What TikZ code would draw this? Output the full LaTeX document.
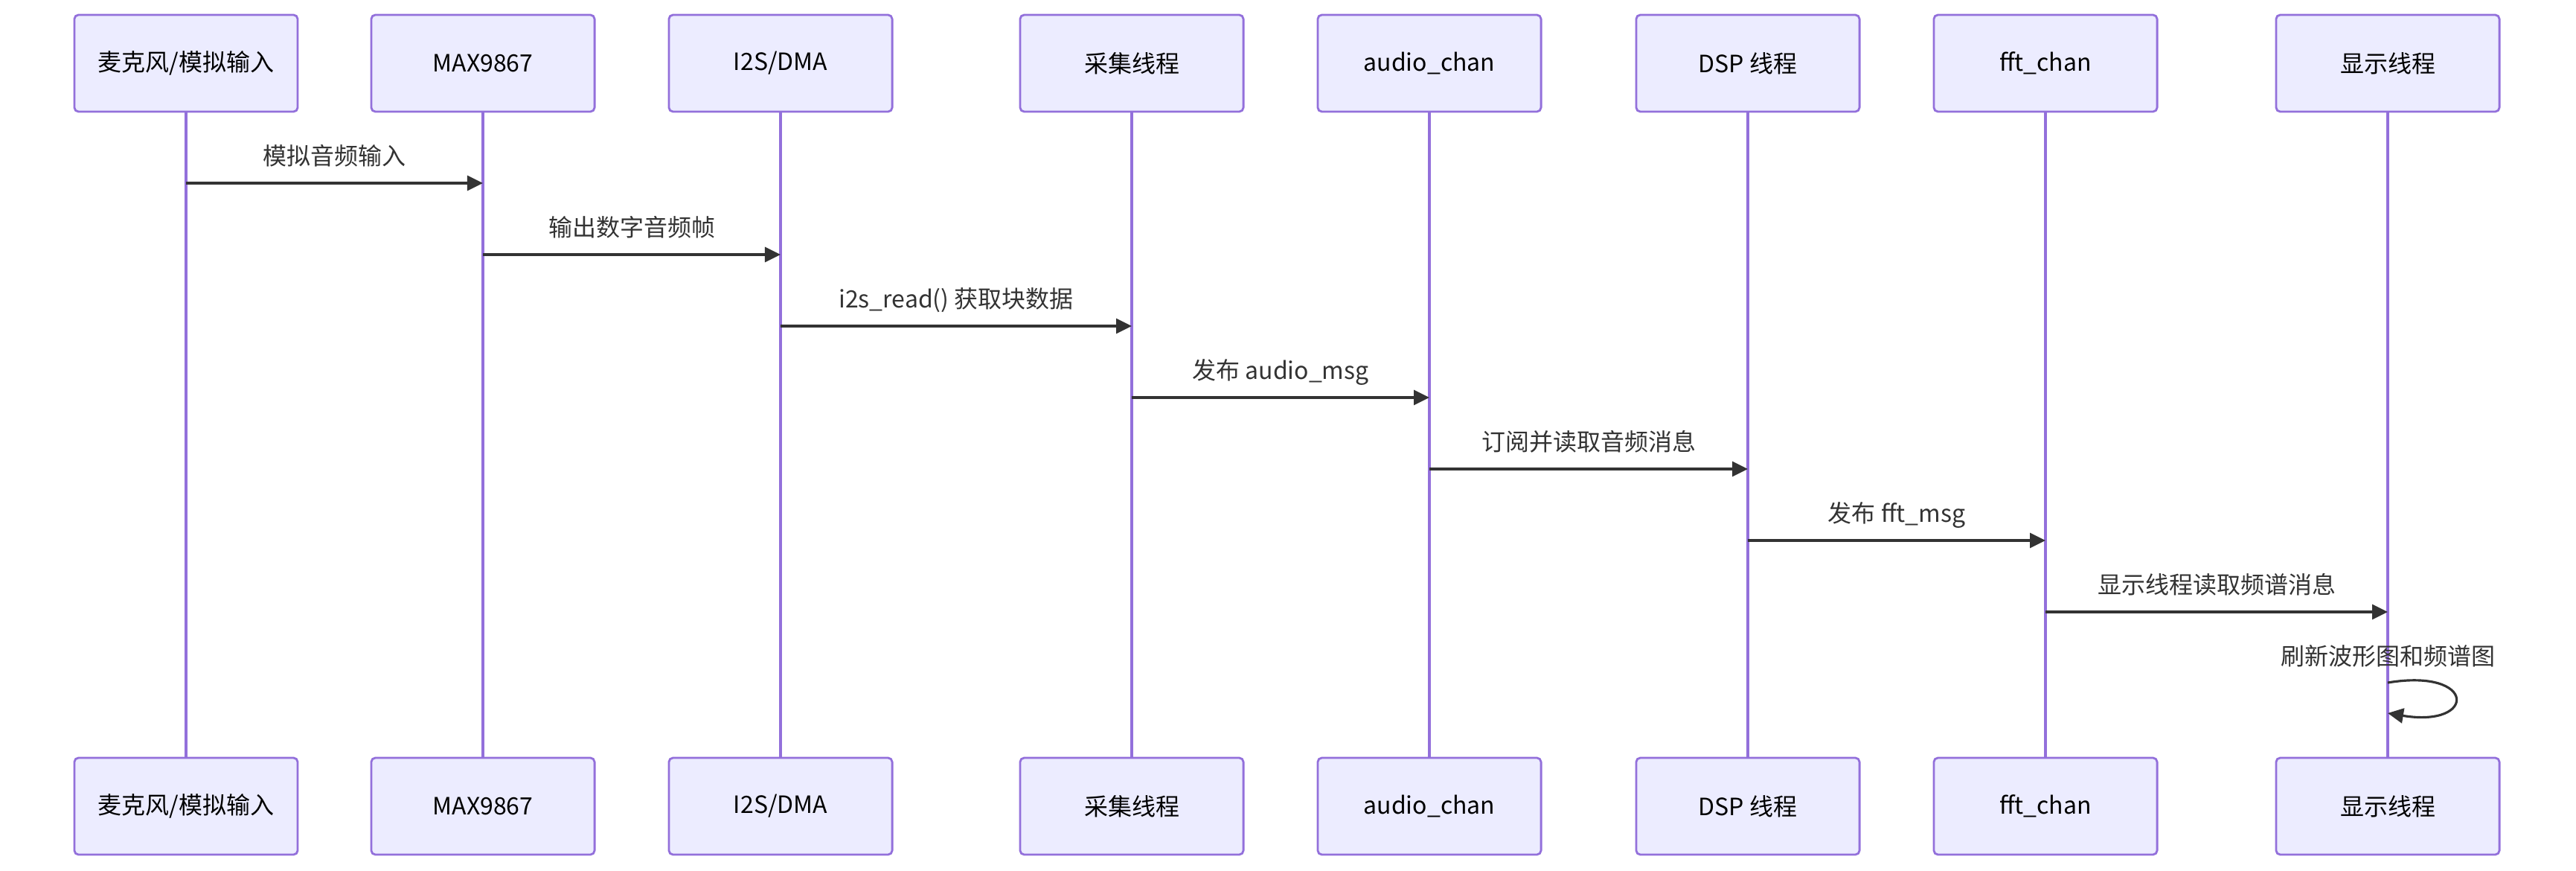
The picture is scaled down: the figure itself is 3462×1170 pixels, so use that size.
\documentclass[tikz,border=0pt]{standalone}
\usepackage{fontspec}
\setmainfont{Noto Sans CJK SC}
\usepackage{tikz}
\usetikzlibrary{arrows.meta, positioning, calc}

\definecolor{actfill}{HTML}{ECECFF}
\definecolor{actline}{HTML}{9370DB}
\definecolor{msgline}{HTML}{333333}

\begin{document}
\begin{tikzpicture}[
    x=0.01cm, y=-0.01cm,
    actor/.style={draw=actline, fill=actfill, line width=0.8pt, rounded corners=1.6pt,
        minimum width=3cm, minimum height=1.3cm, inner sep=0pt,
        font=\fontsize{9.1pt}{11pt}\selectfont},
    life/.style={draw=actline, line width=1.15pt},
    msg/.style={draw=msgline, line width=0.9pt, -{Triangle[length=0.21cm, width=0.2cm]}},
    lbl/.style={text=msgline, inner sep=0pt, text height=0.88em, text depth=0.12em,
        font=\fontsize{9.1pt}{11pt}\selectfont}
]
    \useasboundingbox (0,0) rectangle (3462,1170);

    % participants, top row
    \node[actor] (mic)   at (250,85)  {麦克风/模拟输入};
    \node[actor] (codec) at (649,85)  {MAX9867};
    \node[actor] (dma)   at (1049,85) {I2S/DMA};
    \node[actor] (capt)  at (1521,85) {采集线程};
    \node[actor] (achan) at (1921,85) {audio\_chan};
    \node[actor] (dsp)   at (2349,85) {DSP 线程};
    \node[actor] (fchan) at (2749,85) {fft\_chan};
    \node[actor] (disp)  at (3209,85) {显示线程};

    % participants, bottom row
    \node[actor] (micB)   at (250,1083)  {麦克风/模拟输入};
    \node[actor] (codecB) at (649,1083)  {MAX9867};
    \node[actor] (dmaB)   at (1049,1083) {I2S/DMA};
    \node[actor] (captB)  at (1521,1083) {采集线程};
    \node[actor] (achanB) at (1921,1083) {audio\_chan};
    \node[actor] (dspB)   at (2349,1083) {DSP 线程};
    \node[actor] (fchanB) at (2749,1083) {fft\_chan};
    \node[actor] (dispB)  at (3209,1083) {显示线程};

    % lifelines
    \draw[life] (mic.south) -- (micB.north);
    \draw[life] (codec.south) -- (codecB.north);
    \draw[life] (dma.south) -- (dmaB.north);
    \draw[life] (capt.south) -- (captB.north);
    \draw[life] (achan.south) -- (achanB.north);
    \draw[life] (dsp.south) -- (dspB.north);
    \draw[life] (fchan.south) -- (fchanB.north);
    \draw[life] (disp.south) -- (dispB.north);

    % message rows
    \coordinate (r1) at (0,246);
    \coordinate (r2) at (0,342);
    \coordinate (r3) at (0,438);
    \coordinate (r4) at (0,534);
    \coordinate (r5) at (0,630);
    \coordinate (r6) at (0,726);
    \coordinate (r7) at (0,822);
    \coordinate (r8a) at (0,917);
    \coordinate (r8b) at (0,958);

    \draw[msg] (mic |- r1) -- (codec |- r1) node[lbl, midway, yshift=0.38cm] (m1) {模拟音频输入};
    \draw[msg] (codec |- r2) -- (dma |- r2) node[lbl, midway, yshift=0.38cm] (m2) {输出数字音频帧};
    \draw[msg] (dma |- r3) -- (capt |- r3) node[lbl, midway, yshift=0.38cm] (m3) {i2s\_read() 获取块数据};
    \draw[msg] (capt |- r4) -- (achan |- r4) node[lbl, midway, yshift=0.38cm] (m4) {发布 audio\_msg};
    \draw[msg] (achan |- r5) -- (dsp |- r5) node[lbl, midway, yshift=0.38cm] (m5) {订阅并读取音频消息};
    \draw[msg] (dsp |- r6) -- (fchan |- r6) node[lbl, midway, yshift=0.38cm] (m6) {发布 fft\_msg};
    \draw[msg] (fchan |- r7) -- (disp |- r7) node[lbl, midway, yshift=0.38cm] (m7) {显示线程读取频谱消息};

    % self message
    \node[lbl] (m8) at (disp |- 0,880) {刷新波形图和频谱图};
    \draw[msg] (disp |- r8a) .. controls +(120,-20) and +(120,20) .. (disp |- r8b);
\end{tikzpicture}
\end{document}
